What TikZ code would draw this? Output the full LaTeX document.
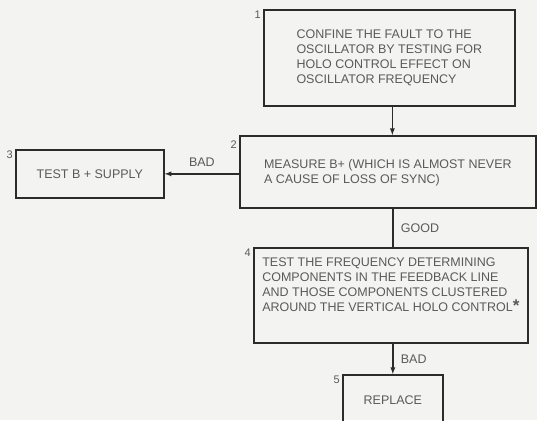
\documentclass[tikz,border=0pt]{standalone}
\usepackage{fontspec}
\usepackage{tikz}
\usetikzlibrary{positioning}
\tikzset{>=latex}
\newfontfamily\chartfont{Liberation Sans}
\definecolor{paper}{HTML}{F3F3F1}
\definecolor{ink}{HTML}{2B2B2B}
\definecolor{txt}{HTML}{5A5A5A}
\tikzstyle{stepbox}=[draw=ink,line width=1.7pt,anchor=north west,align=left,
  text=txt,font=\chartfont\fontsize{12.5}{15}\selectfont,inner sep=0pt]
\tikzstyle{num}=[anchor=north east,inner sep=2pt,text=txt,
  font=\chartfont\fontsize{11}{11}\selectfont]
\tikzstyle{flow}=[ink,line width=1.3pt]
\tikzstyle{answer}=[text=txt,font=\chartfont\fontsize{12.5}{13}\selectfont]

\begin{document}
\begin{tikzpicture}[x=1pt,y=-1pt]
  \useasboundingbox[fill=paper] (0,0) rectangle (537,420);
  \tikzstyle{every label}=[num]

  % the five steps
  \node[stepbox,minimum width=251,minimum height=96,label={north west:1}] (confine) at (263,9)
    {CONFINE THE FAULT TO THE\\OSCILLATOR BY TESTING FOR\\HOLO CONTROL EFFECT ON\\OSCILLATOR FREQUENCY};
  \node[stepbox,minimum width=296,minimum height=72,text depth=0pt,label={[yshift=-4pt]north west:2}] (measure) at (239,135)
    {MEASURE B+ (WHICH IS ALMOST NEVER\\A CAUSE OF LOSS OF SYNC)};
  \node[stepbox,align=center,minimum width=148,minimum height=48,label={north west:3}] (supply) at (15,149)
    {TEST B + SUPPLY};
  \node[stepbox,minimum width=274,minimum height=95,text depth=21pt,label={north west:4}] (freq) at (253,247)
    {TEST THE FREQUENCY DETERMINING\\COMPONENTS IN THE FEEDBACK LINE\\AND THOSE COMPONENTS CLUSTERED\\AROUND THE VERTICAL HOLO CONTROL{\fontsize{17}{15}\selectfont\textbf{*}}};
  \node[stepbox,align=center,minimum width=100,minimum height=50,label={north west:5}] (replace) at (342,374)
    {REPLACE};

  % connectors
  \draw[flow,->] (confine.south) ++(3,0) coordinate (c1) -- (c1 |- measure.north);
  \draw[flow,->] (supply.east -| measure.west) -- (supply.east)
    node[midway,above=3pt,answer] {BAD};
  \draw[flow] (measure.south) ++(5,0) coordinate (c2) -- (c2 |- freq.north)
    node[midway,right=4pt,answer] {GOOD};
  \draw[flow,->] (freq.south) ++(2,0) coordinate (c3) -- (c3 |- replace.north)
    node[midway,right=4pt,answer] {BAD};
\end{tikzpicture}
\end{document}
